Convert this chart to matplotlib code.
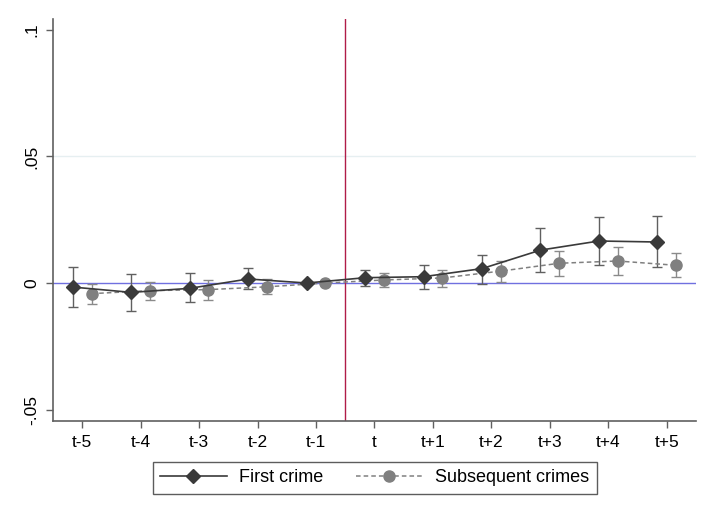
import matplotlib
matplotlib.use("Agg")
import matplotlib.pyplot as plt
import numpy as np

plt.rcParams['font.family'] = ['Liberation Sans', 'DejaVu Sans']

periods = ["t-5", "t-4", "t-3", "t-2", "t-1", "t", "t+1", "t+2", "t+3", "t+4", "t+5"]
first_est = [-0.0016, -0.0037, -0.0021, 0.0016, 0.0, 0.0021, 0.0025, 0.0057, 0.0130, 0.0166, 0.0162]
first_hi = [0.0063, 0.0034, 0.0038, 0.0058, 0.0, 0.0051, 0.0071, 0.0111, 0.0217, 0.0262, 0.0266]
first_lo = [-0.0095, -0.0110, -0.0076, -0.0024, 0.0, -0.0012, -0.0022, -0.0003, 0.0043, 0.0072, 0.0062]
subs_est = [-0.0042, -0.0030, -0.0026, -0.0015, 0.0, 0.0012, 0.0020, 0.0047, 0.0078, 0.0087, 0.0070]
subs_hi = [-0.0005, 0.0005, 0.0011, 0.0016, 0.0, 0.0040, 0.0053, 0.0087, 0.0125, 0.0141, 0.0119]
subs_lo = [-0.0083, -0.0068, -0.0066, -0.0045, 0.0, -0.0017, -0.0016, 0.0003, 0.0026, 0.0030, 0.0023]
yticks = [-0.05, 0, 0.05, 0.1]
yticklabels = ["-.05", "0", ".05", ".1"]

x = np.arange(len(periods)) - 5
off = 0.16

fig = plt.figure(figsize=(7.15, 5.2), dpi=100)
ax = fig.add_axes([0.0741, 0.1904, 0.8993, 0.7731])

ax.axhline(0.05, color='#e6eff1', lw=1.0, zorder=0)
ax.axhline(0, color='#7070e0', lw=1.0, zorder=1)
ax.axvline(-0.5, color='#b01c48', lw=1.0, zorder=1)

fe = np.array(first_est); se = np.array(subs_est)
mask = np.array([p != "t-1" for p in periods])
ax.errorbar(x[mask] - off, fe[mask],
            yerr=[fe[mask] - np.array(first_lo)[mask], np.array(first_hi)[mask] - fe[mask]],
            fmt='none', ecolor='#606060', elinewidth=1.0, capsize=3.5, capthick=1.0, zorder=2)
ax.errorbar(x[mask] + off, se[mask],
            yerr=[se[mask] - np.array(subs_lo)[mask], np.array(subs_hi)[mask] - se[mask]],
            fmt='none', ecolor='#8a8a8a', elinewidth=1.0, capsize=3.5, capthick=1.0, zorder=2)
ax.plot(x + off, se, color='#808080', ls=(0, (3, 2)), lw=1.1, marker='o', ms=8,
        mfc='#808080', mec='#808080', zorder=3, label='Subsequent crimes')
ax.plot(x - off, fe, color='#3a3a3a', ls='-', lw=1.2, marker='D', ms=7.5,
        mfc='#3a3a3a', mec='#3a3a3a', zorder=4, label='First crime')

ax.set_xlim(-5.5, 5.5)
ax.set_ylim(-0.0545, 0.1043)
ax.set_xticks(x)
ax.set_xticklabels(periods, fontsize=12.5)
ax.set_yticks(yticks)
ax.set_yticklabels(yticklabels, fontsize=12.5, rotation=90, va='center')

for s in ['top', 'right']:
    ax.spines[s].set_visible(False)
for s in ['left', 'bottom']:
    ax.spines[s].set_color('#606060')
    ax.spines[s].set_linewidth(1.2)
ax.tick_params(axis='both', direction='out', length=5, width=1.0, color='#606060', pad=5)

h, l = ax.get_legend_handles_labels()
leg = fig.legend([h[1], h[0]], [l[1], l[0]], loc='center', bbox_to_anchor=(0.524, 0.081),
                 ncol=2, fontsize=13, frameon=True, fancybox=False, edgecolor='#333333',
                 handlelength=3.7, columnspacing=1.8, borderpad=0.4, handletextpad=0.7)
leg.get_frame().set_linewidth(1.0)

fig.savefig('out.png', dpi=100)
